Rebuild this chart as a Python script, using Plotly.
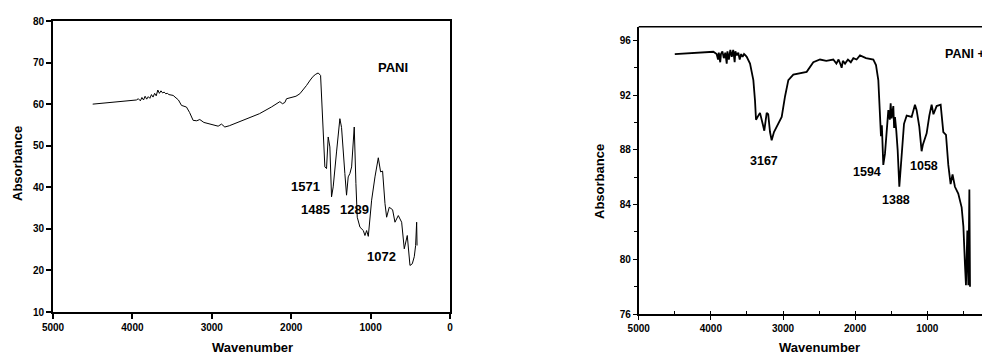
import plotly.graph_objects as go

# ---------------- data: PANI ----------------
pani_x = [4500, 4200, 3950, 3925, 3900, 3880, 3860, 3840, 3820, 3800, 3780, 3760, 3740, 3720,
          3700, 3680, 3660, 3640, 3620, 3600, 3580, 3560, 3540, 3487, 3420, 3382, 3319, 3280,
          3235, 3190, 3151, 3100, 3025, 2960, 2920, 2878, 2836, 2780, 2600, 2400, 2250, 2185,
          2143, 2110, 2080, 2059, 2000, 1940, 1891, 1850, 1807, 1760, 1723, 1690, 1660, 1630,
          1618, 1597, 1576, 1555, 1534, 1513, 1492, 1471, 1450, 1429, 1387, 1366, 1324, 1303,
          1282, 1261, 1239, 1206, 1185, 1168, 1134, 1092, 1071, 1050, 1029, 987, 945, 903, 874,
          849, 819, 798, 765, 723, 693, 651, 609, 576, 538, 504, 475, 450, 433, 420, 415]
pani_y = [60.0, 60.6, 61.0, 61.3, 60.8, 61.6, 61.0, 61.9, 61.2, 61.8, 61.4, 62.3, 61.7, 62.6,
          62.0, 63.4, 62.6, 63.2, 62.7, 62.9, 62.5, 62.6, 62.3, 62.1, 61.0, 59.7, 59.3, 58.0,
          56.1, 56.0, 56.3, 55.6, 55.3, 54.9, 54.7, 55.2, 54.5, 54.8, 56.2, 57.7, 59.3, 60.0,
          60.6, 60.1, 60.4, 61.3, 61.6, 61.9, 62.5, 63.4, 64.5, 65.8, 66.7, 67.2, 67.5, 66.9,
          62.5, 52.9, 44.9, 44.5, 52.1, 49.7, 37.7, 40.1, 43.7, 48.5, 56.5, 54.4, 43.3, 38.1,
          42.5, 43.3, 44.9, 54.5, 40.9, 32.8, 30.4, 29.6, 28.4, 29.6, 28.2, 36.9, 42.5, 47.1, 43.7,
          43.9, 36.1, 32.8, 35.2, 34.6, 31.6, 33.2, 31.6, 25.2, 28.4, 21.2, 21.6, 23.3, 26.0, 31.6, 26.0]

# ---------------- data: PANI + I ----------------
pi_x = [4500, 4300, 4150, 3965, 3920, 3900, 3890, 3870, 3860, 3840, 3820, 3800, 3780, 3770,
        3750, 3730, 3710, 3690, 3670, 3660, 3640, 3620, 3600, 3580, 3560, 3540, 3520, 3503,
        3457, 3411, 3388, 3374, 3342, 3319, 3282, 3259, 3226, 3205, 3180, 3157, 3125, 3088,
        3018, 2972, 2926, 2857, 2764, 2672, 2580, 2487, 2400, 2303, 2260, 2230, 2200, 2187,
        2170, 2140, 2100, 2060, 2025, 1980, 1933, 1850, 1748, 1711, 1679, 1656, 1642, 1630,
        1610, 1587, 1564, 1540, 1520, 1508, 1495, 1471, 1460, 1448, 1430, 1411, 1388, 1365,
        1342, 1323, 1286, 1217, 1171, 1148, 1111, 1079, 1060, 1009, 972, 940, 915, 871, 815,
        778, 741, 709, 677, 650, 617, 571, 524, 500, 477, 464, 445, 431, 417, 408]
pi_y = [95.0, 95.05, 95.1, 95.17, 95.0, 94.6, 95.1, 94.4, 95.0, 95.2, 94.7, 95.1, 94.3, 95.2,
        94.6, 95.3, 94.8, 95.3, 94.4, 95.2, 94.9, 95.1, 94.6, 95.0, 94.8, 95.0, 94.9, 94.8,
        94.3, 93.1, 91.6, 90.2, 90.5, 90.7, 89.9, 89.4, 90.7, 90.6, 89.3, 88.7, 89.3, 89.7,
        90.4, 91.9, 93.1, 93.5, 93.6, 93.7, 94.4, 94.6, 94.5, 94.6, 94.3, 94.6, 94.2, 94.0,
        94.5, 94.3, 94.6, 94.4, 94.7, 94.6, 94.9, 94.7, 94.6, 94.2, 93.1, 90.9, 89.0, 89.8,
        86.9, 87.7, 89.2, 90.9, 90.2, 91.4, 90.3, 91.2, 89.6, 90.4, 89.4, 88.0, 85.3, 86.8,
        88.7, 89.9, 90.5, 90.4, 91.3, 90.9, 89.7, 87.9, 88.4, 89.2, 90.5, 91.3, 90.6, 91.2, 91.3,
        89.3, 89.1, 86.9, 85.5, 86.2, 85.3, 84.8, 83.8, 82.4, 79.5, 78.1, 82.1, 78.1, 85.1, 78.0]

pani_labels = ["PANI", "1571", "1485", "1289", "1072"]
pani_lx = [718, 1826, 1688, 1209, 857]
pani_ly = [68.7, 40.1, 34.6, 34.6, 23.3]

pi_labels = ["3167", "1594", "1388", "1058"]
pi_lx = [3263, 1840, 1434, 1046]
pi_ly = [87.2, 86.4, 84.3, 86.8]
pi_title = "PANI +I"

FONT = "Liberation Sans"

# page body has an 8px margin; figure sized to fill the rest of the window
OFF = 8
W, H = 990 - OFF, 354 - OFF


def px(x):
    return (x - OFF) / W


def py(y):
    return (354 - y) / H


fig = go.Figure()
fig.add_trace(go.Scatter(x=pani_x, y=pani_y, mode="lines",
                         line=dict(color="black", width=1), xaxis="x", yaxis="y",
                         showlegend=False))
fig.add_trace(go.Scatter(x=pi_x, y=pi_y, mode="lines",
                         line=dict(color="black", width=1.8), xaxis="x2", yaxis="y2",
                         showlegend=False))

tickfont = dict(family=FONT, size=10, color="black", weight="bold")

ann = []
for t, x, y in zip(pani_labels, pani_lx, pani_ly):
    ann.append(dict(text=t, x=x, y=y, xref="x", yref="y", showarrow=False,
                    xanchor="center", yanchor="middle",
                    font=dict(family=FONT, size=13, color="black", weight="bold")))
for t, x, y in zip(pi_labels, pi_lx, pi_ly):
    ann.append(dict(text=t, x=x, y=y, xref="x2", yref="y2", showarrow=False,
                    xanchor="center", yanchor="middle",
                    font=dict(family=FONT, size=12.5, color="black", weight="bold")))
ann.append(dict(text=pi_title, x=785, y=94.98, xref="x2", yref="y2", showarrow=False,
                xanchor="left", yanchor="middle",
                font=dict(family=FONT, size=12.5, color="black", weight="bold")))
# axis titles
tfont = dict(family=FONT, size=13, color="black", weight="bold")
ann += [
    dict(text="Absorbance", x=px(17), y=py(164), xref="paper", yref="paper",
         textangle=-90, showarrow=False, xanchor="center", yanchor="middle", font=tfont),
    dict(text="Wavenumber", x=px(252), y=py(347), xref="paper", yref="paper",
         showarrow=False, xanchor="center", yanchor="middle", font=tfont),
    dict(text="Absorbance", x=px(599), y=py(182), xref="paper", yref="paper",
         textangle=-90, showarrow=False, xanchor="center", yanchor="middle", font=tfont),
    dict(text="Wavenumber", x=px(819), y=py(347), xref="paper", yref="paper",
         showarrow=False, xanchor="center", yanchor="middle", font=tfont),
]

fig.update_layout(
    width=W, height=H,
    margin=dict(l=0, r=0, t=0, b=0, autoexpand=False),
    paper_bgcolor="white", plot_bgcolor="white",
    annotations=ann,
    xaxis=dict(domain=[px(53), px(450)], range=[5000, 0], tickvals=[5000, 4000, 3000, 2000, 1000, 0],
               automargin=False,
               showgrid=False, zeroline=False, showline=True, linecolor="black", linewidth=2,
               mirror=True, ticks="outside", ticklen=5, tickwidth=1.5, tickcolor="black",
               tickfont=tickfont, anchor="y"),
    yaxis=dict(domain=[py(312), py(21)], range=[10, 80], dtick=10,
               automargin=False,
               showgrid=False, zeroline=False, showline=True, linecolor="black", linewidth=2,
               mirror=True, ticks="outside", ticklen=5, tickwidth=1.5, tickcolor="black",
               tickfont=tickfont, anchor="x"),
    xaxis2=dict(domain=[px(638.7), 1.0], range=[5000, 131], tickvals=[5000, 4000, 3000, 2000, 1000],
                automargin=False,
                showgrid=False, zeroline=False, showline=True, linecolor="black", linewidth=1.5,
                ticks="outside", ticklen=4, tickwidth=1.2, tickcolor="black",
                minor=dict(dtick=500, ticks="inside", ticklen=3, tickcolor="black", tickwidth=1),
                tickfont=tickfont, anchor="y2"),
    yaxis2=dict(domain=[py(314), py(26.7)], range=[76, 97], tickvals=[76, 80, 84, 88, 92, 96],
                automargin=False,
                showgrid=False, zeroline=False, showline=True, linecolor="black", linewidth=1.5,
                ticks="outside", ticklen=4, tickwidth=1.2, tickcolor="black",
                minor=dict(tickvals=[78, 82, 86, 90, 94], ticks="outside", ticklen=3,
                           tickcolor="black", tickwidth=1),
                tickfont=tickfont, anchor="x2"),
    shapes=[dict(type="line", xref="paper", yref="paper", x0=px(638.7), x1=1.0,
                 y0=py(26.7), y1=py(26.7), line=dict(color="black", width=1.5))],
)

fig.write_html("out.html")
